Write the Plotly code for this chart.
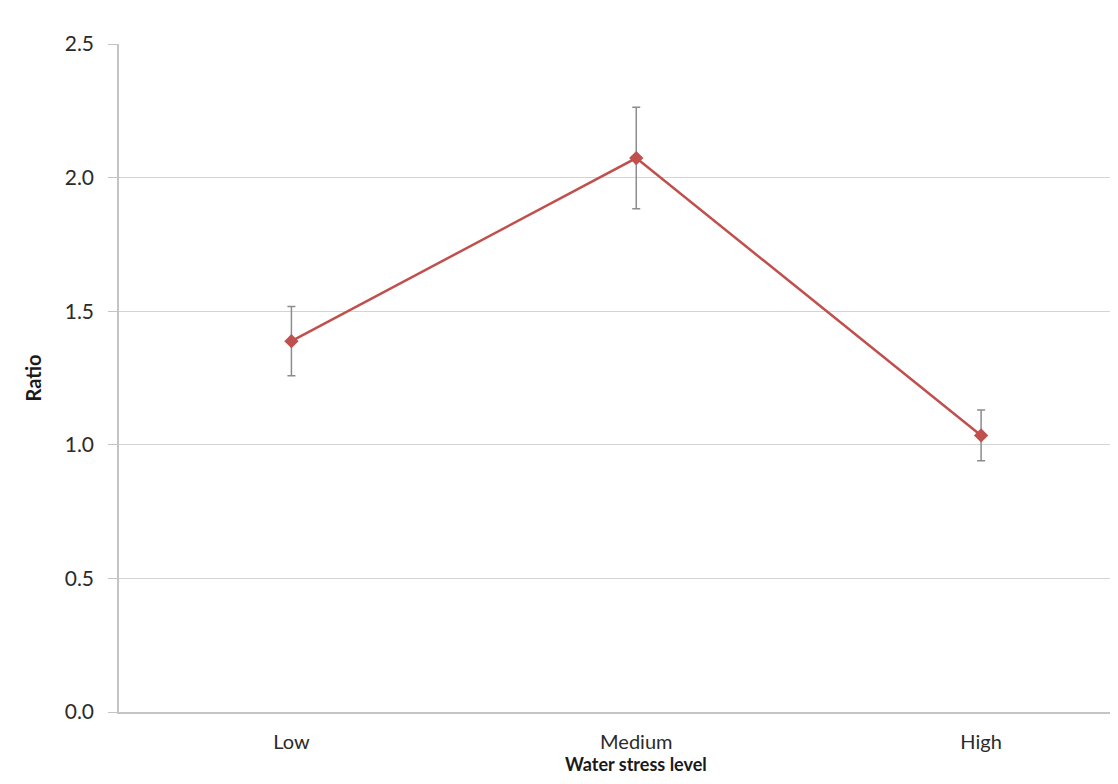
import plotly.graph_objects as go

categories = ["Low", "Medium", "High"]
ratio = [1.388, 2.073, 1.035]
ratio_err = [0.13, 0.19, 0.095]
y_ticks = [0.0, 0.5, 1.0, 1.5, 2.0, 2.5]

red = "#C0504D"
font_family = "Lato, 'Open Sans', sans-serif"

fig = go.Figure()
fig.add_trace(go.Scatter(
    x=categories, y=ratio,
    mode="lines+markers",
    line=dict(color=red, width=2.5),
    marker=dict(symbol="diamond", size=11, color=red),
    error_y=dict(type="data", array=ratio_err, visible=True,
                 color="#8c8c8c", thickness=1.5, width=4),
    showlegend=False,
))

fig.update_layout(
    width=1110, height=776,
    margin=dict(l=111, r=0, t=36, b=72),
    paper_bgcolor="white", plot_bgcolor="white",
    font=dict(family=font_family, size=21, color="#2b2b2b"),
    xaxis=dict(
        type="category", range=[-0.5, 2.397],
        showgrid=False, showline=True, linecolor="#c4c4c4", linewidth=1.5,
        ticks="", ticklabelstandoff=11,
        tickfont=dict(size=20, color="#2b2b2b"),
    ),
    yaxis=dict(
        range=[0, 2.5], tickvals=y_ticks, tickformat=".1f",
        showgrid=True, gridcolor="#d4d4d4", gridwidth=1.2,
        showline=True, linecolor="#c4c4c4", linewidth=1.5,
        ticks="outside", ticklen=9, tickcolor="#c4c4c4", tickwidth=1.2,
        ticklabelstandoff=10,
        zeroline=False,
        tickfont=dict(size=21, color="#2b2b2b"),
        title=dict(text="<b>Ratio</b>", font=dict(size=20, color="#1a1a1a"), standoff=18),
    ),
    annotations=[dict(
        text="<b>Water stress level</b>", x=1, xref="x", y=-0.098, yref="paper",
        xanchor="center", yanchor="bottom", showarrow=False,
        font=dict(size=18, color="#1a1a1a"),
    )],
)

fig.write_html("out.html")
